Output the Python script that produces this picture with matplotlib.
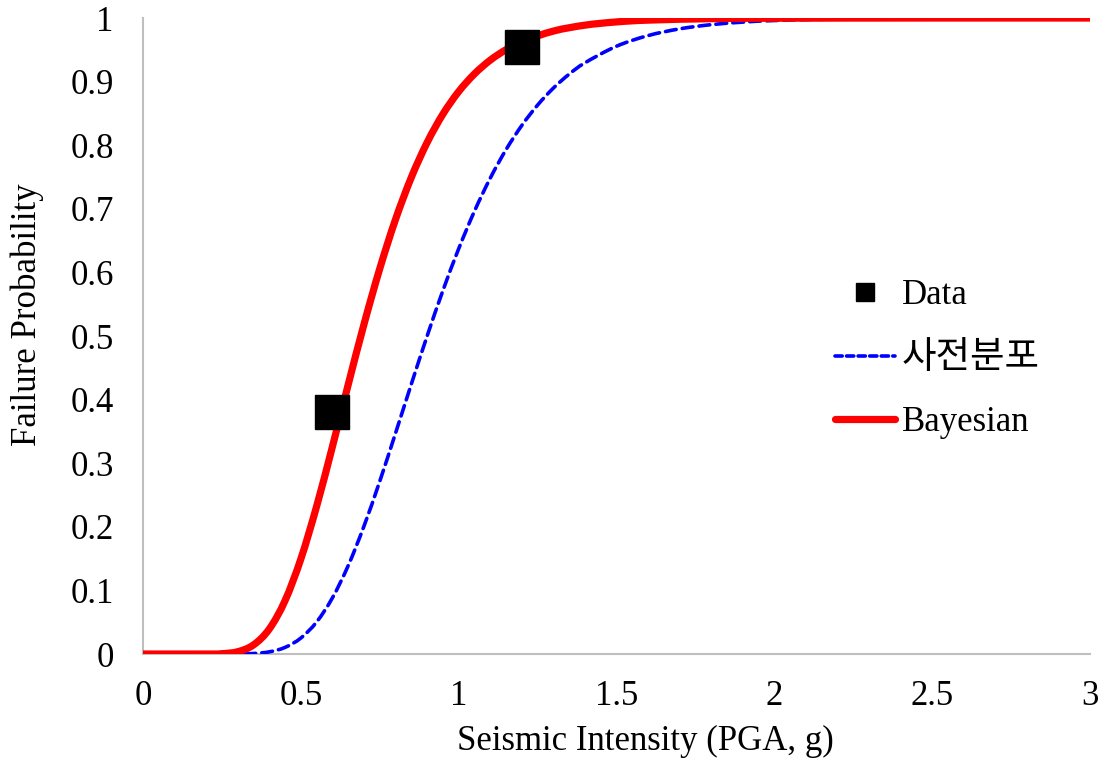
import matplotlib
matplotlib.use("Agg")
import matplotlib.pyplot as plt
from matplotlib.lines import Line2D
from matplotlib.path import Path
from matplotlib.patches import PathPatch

# ---- data ----
data_x = [0.60, 1.20]
data_y = [0.381, 0.954]

bayes_x = [0.0, 0.20, 0.25, 0.30, 0.35, 0.40, 0.45, 0.50, 0.55, 0.60, 0.65, 0.70, 0.75,
           0.80, 0.85, 0.90, 0.95, 1.00, 1.05, 1.10, 1.15, 1.20, 1.30, 1.40, 1.50,
           1.60, 1.80, 2.00, 2.50, 3.00]
bayes_y = [0.0, 0.0, 0.0005, 0.0036, 0.0143, 0.0393, 0.0840, 0.1495, 0.2323, 0.3261,
           0.4236, 0.5185, 0.6060, 0.6835, 0.7495, 0.8043, 0.8489, 0.8844, 0.9122,
           0.9338, 0.9503, 0.9629, 0.9795, 0.9888, 0.9939, 0.9967, 0.9990, 0.9997,
           1.0, 1.0]

prior_x = [0.0, 0.25, 0.30, 0.35, 0.40, 0.45, 0.50, 0.55, 0.60, 0.65, 0.70, 0.75, 0.80,
           0.85, 0.90, 0.95, 1.00, 1.05, 1.10, 1.15, 1.20, 1.25, 1.30, 1.35, 1.40,
           1.50, 1.60, 1.70, 1.80, 1.90, 2.00, 2.20, 2.50, 3.00]
prior_y = [0.0, 0.0, 0.0001, 0.0008, 0.0034, 0.0104, 0.0251, 0.0504, 0.0883, 0.1390,
           0.2011, 0.2717, 0.3474, 0.4245, 0.5000, 0.5715, 0.6373, 0.6964, 0.7483,
           0.7931, 0.8312, 0.8632, 0.8899, 0.9118, 0.9296, 0.9557, 0.9724, 0.9830,
           0.9896, 0.9936, 0.9961, 0.9986, 0.9997, 0.9999]

x_ticks = [0, 0.5, 1, 1.5, 2, 2.5, 3]
x_tick_labels = ["0", "0.5", "1", "1.5", "2", "2.5", "3"]
y_ticks = [0, 0.1, 0.2, 0.3, 0.4, 0.5, 0.6, 0.7, 0.8, 0.9, 1.0]
y_tick_labels = ["0", "0.1", "0.2", "0.3", "0.4", "0.5", "0.6", "0.7", "0.8", "0.9", "1"]

labels = ["Data", "사전분포", "Bayesian"]
x_label = "Seismic Intensity (PGA, g)"
y_label = "Failure Probability"


def smooth_path(xs, ys):
    """Smoothed-line rendering (Catmull-Rom segments as cubic Beziers)."""
    pts = list(zip(xs, ys))
    verts = [pts[0]]
    codes = [Path.MOVETO]
    n = len(pts)
    for i in range(n - 1):
        p0 = pts[i - 1] if i > 0 else pts[i]
        p1 = pts[i]
        p2 = pts[i + 1]
        p3 = pts[i + 2] if i + 2 < n else pts[i + 1]
        c1 = (p1[0] + (p2[0] - p0[0]) / 6.0, p1[1] + (p2[1] - p0[1]) / 6.0)
        c2 = (p2[0] - (p3[0] - p1[0]) / 6.0, p2[1] - (p3[1] - p1[1]) / 6.0)
        verts += [c1, c2, p2]
        codes += [Path.CURVE4] * 3
    return Path(verts, codes)


# ---- drawing ----
plt.rcParams["font.family"] = ["Liberation Serif", "Noto Sans CJK KR", "DejaVu Sans"]
FS = 25

fig = plt.figure(figsize=(11, 7.61), dpi=100)
ax = fig.add_axes([0.130, 0.1406, 0.861, 0.8357])

ax.add_patch(PathPatch(smooth_path(prior_x, prior_y), facecolor="none",
                       edgecolor="#0000ff", lw=2.6, linestyle=(0, (3.0, 1.7)),
                       capstyle="round", zorder=2))
ax.add_patch(PathPatch(smooth_path(bayes_x, bayes_y), facecolor="none",
                       edgecolor="#ff0000", lw=5.2, capstyle="butt", zorder=3))
ax.plot(data_x, data_y, linestyle="none", marker="s", markersize=24,
        color="black", zorder=4)

ax.set_xlim(0, 3)
ax.set_ylim(0, 1)
ax.set_xticks(x_ticks)
ax.set_xticklabels(x_tick_labels)
ax.set_yticks(y_ticks)
ax.set_yticklabels(y_tick_labels)
ax.tick_params(axis="both", length=0, labelsize=FS, colors="black")
ax.tick_params(axis="y", pad=21)
ax.tick_params(axis="x", pad=19)

for s in ["top", "right"]:
    ax.spines[s].set_visible(False)
for s in ["left", "bottom"]:
    ax.spines[s].set_color("#bfbfbf")
    ax.spines[s].set_linewidth(1.5)
    ax.spines[s].set_zorder(1)

fig.text(645 / 1100, 1 - 741 / 761, x_label, fontsize=FS, ha="center", va="center")
fig.text(27 / 1100, 1 - 315 / 761, y_label, fontsize=FS, ha="center", va="center",
         rotation=90)

handles = [
    Line2D([], [], linestyle="none", marker="s", markersize=13, color="black"),
    Line2D([], [], color="#0000ff", lw=2.6, linestyle=(0, (2.0, 1.2)),
           dash_capstyle="round"),
    Line2D([], [], color="#ff0000", lw=5.2, solid_capstyle="round"),
]
leg = fig.legend(handles, labels, loc="upper left",
                 bbox_to_anchor=(835 / 1100, 1 - 279 / 761),
                 frameon=False, fontsize=FS, handlelength=1.72, handletextpad=0.2,
                 labelspacing=0.86, borderaxespad=0, borderpad=0)
leg.get_texts()[1].set_fontsize(27)

fig.savefig("out.png", dpi=100)
